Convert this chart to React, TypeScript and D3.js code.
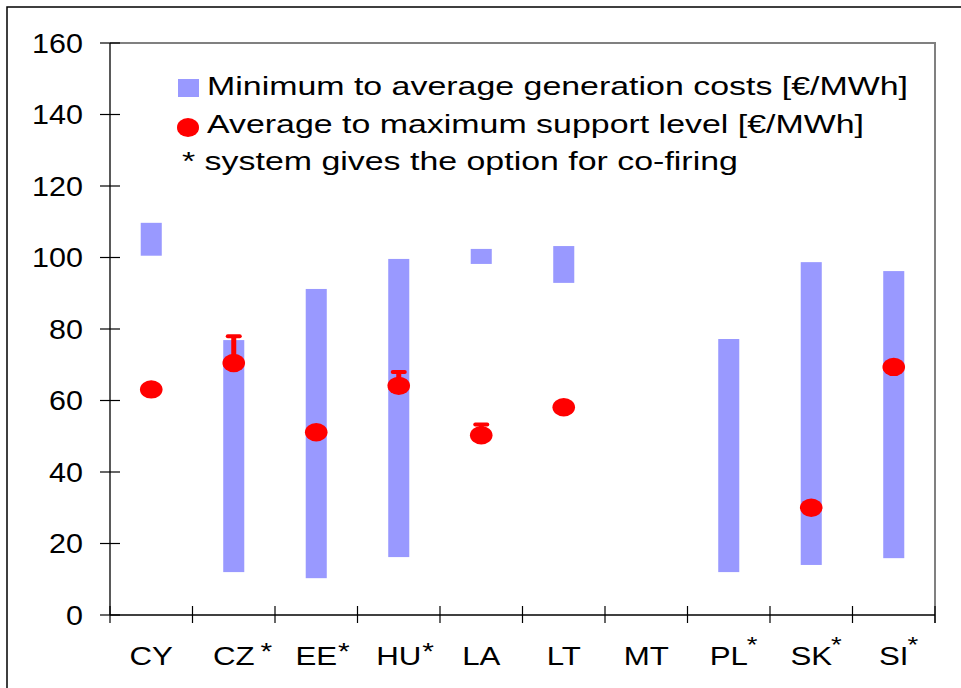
import React, { useEffect, useRef } from "react";
import * as d3 from "d3";

const categories = ["CY", "CZ", "EE", "HU", "LA", "LT", "MT", "PL", "SK", "SI"];
// asterisk style: "" none, "space" = " *", "tight" = "*", "sup" = raised *
const asteriskStyle = ["", "space", "tight", "tight", "", "", "", "sup", "sup", "sup"];
const costMin: (number | null)[] = [100.5, 12.0, 10.3, 16.2, 98.2, 92.9, null, 12.0, 14.0, 15.9];
const costAvg: (number | null)[] = [109.7, 76.9, 91.2, 99.6, 102.4, 103.2, null, 77.2, 98.7, 96.2];
const supportAvg: (number | null)[] = [63.1, 70.5, 51.1, 64.1, 50.3, 58.1, null, null, 30.0, 69.4];
const supportMax: (number | null)[] = [63.1, 78.0, 51.1, 68.0, 53.3, 58.1, null, null, 30.0, 69.4];
const yTicks = [0, 20, 40, 60, 80, 100, 120, 140, 160];
const legendLabels = [
  "Minimum to average generation costs [€/MWh]",
  "Average to maximum support level [€/MWh]",
  "* system gives the option for co-firing",
];

const BAR = "#9999FF";
const RED = "#FF0000";
const FONT = "'Liberation Sans', Arial, sans-serif";

export default function App() {
  const ref = useRef<SVGSVGElement>(null);

  useEffect(() => {
    const svg = d3.select(ref.current);
    svg.selectAll("*").remove();

    const left = 110, right = 935, top = 43, bottom = 615;
    const x = d3.scaleBand<string>().domain(categories).range([left, right]);
    const y = d3.scaleLinear().domain([0, 160]).range([bottom, top]);
    const bw = x.bandwidth() * 0.255;
    const cx = (c: string) => (x(c) as number) + x.bandwidth() / 2;

    // outer frame
    svg.append("rect").attr("x", 7).attr("y", 7).attr("width", 1000).attr("height", 1000)
      .attr("fill", "none").attr("stroke", "#000").attr("stroke-width", 1.5);

    // plot top/right border
    svg.append("path")
      .attr("d", `M${left},${top}H${right}V${bottom + 8}`)
      .attr("fill", "none").attr("stroke", "#808080").attr("stroke-width", 2);

    // bars
    const g = svg.append("g");
    categories.forEach((c, i) => {
      const lo = costMin[i], hi = costAvg[i];
      if (lo == null || hi == null) return;
      g.append("rect").attr("x", cx(c) - bw / 2).attr("y", y(hi))
        .attr("width", bw).attr("height", y(lo) - y(hi)).attr("fill", BAR);
    });

    // error bars and dots
    categories.forEach((c, i) => {
      const a = supportAvg[i], m = supportMax[i];
      if (a == null || m == null) return;
      if (m > a) {
        g.append("line").attr("x1", cx(c)).attr("x2", cx(c)).attr("y1", y(a)).attr("y2", y(m))
          .attr("stroke", RED).attr("stroke-width", 5);
        g.append("line").attr("x1", cx(c) - 6).attr("x2", cx(c) + 6).attr("y1", y(m)).attr("y2", y(m))
          .attr("stroke", RED).attr("stroke-width", 4).attr("stroke-linecap", "round");
      }
      g.append("ellipse").attr("cx", cx(c)).attr("cy", y(a)).attr("rx", 11.3).attr("ry", 9.2).attr("fill", RED);
    });

    // y axis
    const ya = svg.append("g");
    ya.append("line").attr("x1", left).attr("x2", left).attr("y1", top).attr("y2", bottom)
      .attr("stroke", "#000").attr("stroke-width", 1.3);
    yTicks.forEach((t) => {
      ya.append("line").attr("x1", left - 10).attr("x2", left + 10).attr("y1", y(t)).attr("y2", y(t))
        .attr("stroke", "#000").attr("stroke-width", 1.2);
      ya.append("text").attr("transform", `translate(83,${y(t) + 9.7}) scale(1.13,1)`)
        .attr("text-anchor", "end").attr("font-family", FONT).attr("font-size", 27).attr("fill", "#000")
        .text(String(t));
    });

    // x axis
    const xa = svg.append("g");
    xa.append("line").attr("x1", left).attr("x2", right).attr("y1", bottom).attr("y2", bottom)
      .attr("stroke", "#000").attr("stroke-width", 1.3);
    const bounds = [...categories.map((c) => x(c) as number), right];
    bounds.forEach((b) => {
      xa.append("line").attr("x1", b).attr("x2", b).attr("y1", bottom - 9).attr("y2", bottom + 8)
        .attr("stroke", "#000").attr("stroke-width", 1.2);
    });
    const sx = 1.25;
    categories.forEach((c, i) => {
      const t = xa.append("text").attr("transform", `translate(${cx(c)},665) scale(${sx},1)`)
        .attr("text-anchor", "middle").attr("font-family", FONT).attr("font-size", 25).attr("fill", "#000")
        .text(c);
      const w = (t.node() as SVGTextElement).getComputedTextLength() * sx;
      const st = asteriskStyle[i];
      if (st) {
        const ax = cx(c) + w / 2 + (st === "space" ? 6 : st === "sup" ? -1 : 1);
        const ay = st === "sup" ? 652 : 660;
        xa.append("text").attr("transform", `translate(${ax},${ay}) scale(${sx},1)`)
          .attr("font-family", FONT).attr("font-size", st === "sup" ? 22 : 24).attr("fill", "#000").text("*");
      }
    });

    // legend
    const lg = svg.append("g");
    lg.append("rect").attr("x", 178).attr("y", 79).attr("width", 21).attr("height", 18).attr("fill", BAR);
    lg.append("ellipse").attr("cx", 188).attr("cy", 127.5).attr("rx", 11).attr("ry", 9.5).attr("fill", RED);
    const lsx = 1.28;
    [[207, 95], [207, 133], [182, 170]].forEach(([lx, ly], i) => {
      lg.append("text").attr("transform", `translate(${lx},${ly}) scale(${lsx},1)`)
        .attr("font-family", FONT).attr("font-size", 26.5).attr("fill", "#000").text(legendLabels[i]);
    });
  }, []);

  return (
    <svg ref={ref} width={961} height={688}
      style={{ position: "absolute", left: 0, top: 0, background: "#fff" }} />
  );
}
